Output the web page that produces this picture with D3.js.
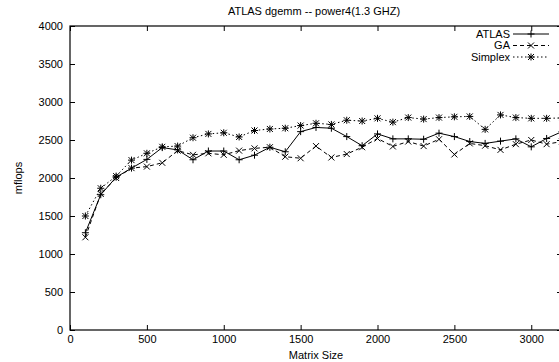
<!DOCTYPE html>
<html>
<head>
<meta charset="utf-8">
<script src="https://cdn.jsdelivr.net/npm/d3@7"></script>
<style>
body { margin: 0; background: #fff; }
text { font-family: "Liberation Sans", Arial, sans-serif; font-size: 11px; fill: #000; }
</style>
</head>
<body>
<div id="chart"></div>
<script>
// matrix sizes and measured mflops
var sizes = [100, 200, 300, 400, 500, 600, 700, 800, 900, 1000, 1100, 1200, 1300, 1400, 1500, 1600,
             1700, 1800, 1900, 2000, 2100, 2200, 2300, 2400, 2500, 2600, 2700, 2800, 2900, 3000, 3100, 3200];
var atlas = [1280, 1780, 2010, 2130, 2245, 2400, 2370, 2240, 2355, 2355, 2240, 2300, 2405, 2345, 2610, 2665,
             2655, 2545, 2425, 2580, 2515, 2515, 2510, 2590, 2545, 2480, 2455, 2485, 2515, 2410, 2520, 2610];
var ga = [1220, 1790, 2000, 2130, 2150, 2200, 2360, 2305, 2325, 2305, 2360, 2390, 2405, 2280, 2260, 2420,
          2270, 2315, 2405, 2520, 2415, 2480, 2420, 2510, 2310, 2455, 2425, 2370, 2445, 2500, 2445, 2480];
var simplex = [1500, 1865, 2025, 2235, 2325, 2410, 2420, 2530, 2580, 2595, 2540, 2625, 2645, 2655, 2690, 2720,
               2705, 2760, 2750, 2785, 2735, 2795, 2775, 2795, 2805, 2810, 2640, 2830, 2795, 2785, 2785, 2790];
var seriesNames = ["ATLAS", "GA", "Simplex"];
var xTicks = [0, 500, 1000, 1500, 2000, 2500, 3000];
var yTicks = [0, 500, 1000, 1500, 2000, 2500, 3000, 3500, 4000];

function init() {
  var w = 559, h = 362;
  var left = 70, top = 26, plotW = 492, plotH = 304;

  var svg = d3.select("#chart").append("svg")
      .attr("width", w)
      .attr("height", h);

  var x = d3.scaleLinear().domain([0, 3200]).range([left, left + plotW]);
  var y = d3.scaleLinear().domain([0, 4000]).range([top + plotH, top]);
  var fmt = d3.format("d");

  // axes, gnuplot style: inward ticks on all four sides
  svg.append("g")
     .attr("transform", "translate(0," + (top + plotH) + ")")
     .call(d3.axisBottom(x).tickValues(xTicks).tickFormat(fmt).tickSizeInner(-5).tickSizeOuter(0).tickPadding(5));
  svg.append("g")
     .attr("transform", "translate(0," + top + ")")
     .call(d3.axisTop(x).tickValues(xTicks).tickSizeInner(-5).tickSizeOuter(0).tickFormat(""));
  svg.append("g")
     .attr("transform", "translate(" + left + ",0)")
     .call(d3.axisLeft(y).tickValues(yTicks).tickFormat(fmt).tickSizeInner(-5).tickSizeOuter(0).tickPadding(7));
  svg.append("g")
     .attr("transform", "translate(" + (left + plotW) + ",0)")
     .call(d3.axisRight(y).tickValues(yTicks).tickSizeInner(-5).tickSizeOuter(0).tickFormat(""));

  svg.selectAll(".domain").remove();
  svg.selectAll(".tick line").attr("stroke", "#000");
  svg.selectAll(".tick text").style("font-size", "11px").attr("fill", "#000");

  svg.append("rect")
     .attr("x", left).attr("y", top)
     .attr("width", plotW).attr("height", plotH)
     .attr("fill", "none").attr("stroke", "#000").attr("stroke-width", 1.2);

  // titles
  svg.append("text")
     .attr("x", left + plotW / 2 - 2).attr("y", 15)
     .attr("text-anchor", "middle")
     .text("ATLAS dgemm -- power4(1.3 GHZ)");
  svg.append("text")
     .attr("x", left + plotW / 2).attr("y", 359)
     .attr("text-anchor", "middle")
     .text("Matrix Size");
  svg.append("text")
     .attr("transform", "translate(22," + (top + plotH / 2) + ") rotate(-90)")
     .attr("text-anchor", "middle")
     .text("mflops");

  var plus = "M-3.5,0H3.5M0,-3.5V3.5";
  var cross = "M-3,-3L3,3M-3,3L3,-3";
  var star = plus + cross;

  var series = [
    { name: seriesNames[0], values: atlas, dash: null, marker: plus },
    { name: seriesNames[1], values: ga, dash: "4,3", marker: cross },
    { name: seriesNames[2], values: simplex, dash: "1.5,2.5", marker: star }
  ];

  var line = d3.line()
      .x(function(d) { return x(d[0]); })
      .y(function(d) { return y(d[1]); });

  series.forEach(function(s, i) {
    var pts = sizes.map(function(n, j) { return [n, s.values[j]]; });
    svg.append("path")
       .datum(pts)
       .attr("d", line)
       .attr("fill", "none")
       .attr("stroke", "#000")
       .attr("stroke-width", 1)
       .attr("stroke-dasharray", s.dash);
    svg.selectAll(".m" + i)
       .data(pts)
       .enter().append("path")
       .attr("class", "m" + i)
       .attr("transform", function(d) { return "translate(" + x(d[0]) + "," + y(d[1]) + ")"; })
       .attr("d", s.marker)
       .attr("fill", "none")
       .attr("stroke", "#000")
       .attr("stroke-width", 1);

    // legend entry
    var ly = 34 + i * 11.5;
    svg.append("text")
       .attr("x", 510).attr("y", ly)
       .attr("dy", "0.35em")
       .attr("text-anchor", "end")
       .text(s.name);
    svg.append("line")
       .attr("x1", 513).attr("x2", 549)
       .attr("y1", ly).attr("y2", ly)
       .attr("stroke", "#000")
       .attr("stroke-dasharray", s.dash);
    svg.append("path")
       .attr("transform", "translate(531," + ly + ")")
       .attr("d", s.marker)
       .attr("fill", "none")
       .attr("stroke", "#000");
  });
}
window.onload = init;
</script>
</body>
</html>
